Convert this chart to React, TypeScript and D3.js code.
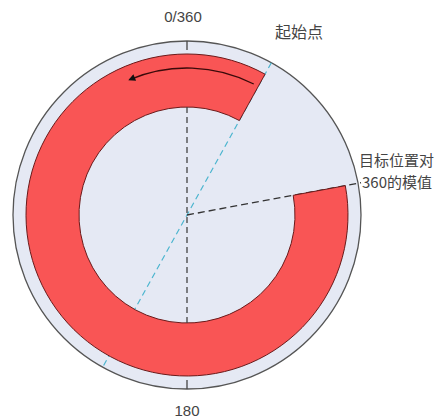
import React from "react";
import * as d3 from "d3";

const startAngleDeg = 29; // 起始点
const targetAngleDeg = 79.5; // 目标位置对360的模值
const arrowFromDeg = 27;
const arrowToDeg = -23;
const axisLabels = ["0/360", "180"];
const startLabel = ["起始点"];
const targetLabel = ["目标位置对", "360的模值"];

const W = 440, H = 419;
const cx = 187, cy = 215;
const rOuter = 174, rRed = 161, rInner = 108, rArrow = 147;

const rad = (d: number) => (d * Math.PI) / 180;
const pt = (deg: number, r: number) => [cx + r * Math.sin(rad(deg)), cy - r * Math.cos(rad(deg))];

export default function App() {
  const redArc = d3.arc()({
    innerRadius: rInner,
    outerRadius: rRed,
    startAngle: rad(targetAngleDeg),
    endAngle: rad(startAngleDeg + 360),
  } as any) as string;

  const a0 = pt(arrowFromDeg, rArrow);
  const a1 = pt(arrowToDeg, rArrow);
  const arrowPath = `M${a0[0]},${a0[1]} A${rArrow},${rArrow} 0 0 0 ${a1[0]},${a1[1]}`;

  const blueA = pt(startAngleDeg, rOuter);
  const blueB = pt(startAngleDeg + 180, rOuter);
  const tgt = pt(targetAngleDeg, rOuter + 3);
  const font = "'Liberation Sans', Arial, sans-serif";
  const cjk = "'Noto Sans CJK SC', sans-serif";

  return (
    <svg width={W} height={H} style={{ position: "absolute", left: 0, top: 0, background: "#fff" }}>
      <defs>
        <marker id="ah" viewBox="0 0 10 10" refX="8" refY="5" markerWidth="10" markerHeight="7" orient="auto" markerUnits="userSpaceOnUse">
          <path d="M0,0 L10,5 L0,10 z" fill="#111" />
        </marker>
      </defs>
      <circle cx={cx} cy={cy} r={rOuter} fill="#e5e9f4" stroke="#555" strokeWidth={1.3} />
      {/* blue dashed start line */}
      <line x1={blueA[0]} y1={blueA[1]} x2={blueB[0]} y2={blueB[1]} stroke="#4bb5cf" strokeWidth={1.2} strokeDasharray="6,4" />
      {/* target dashed line */}
      <line x1={cx} y1={cy} x2={tgt[0]} y2={tgt[1]} stroke="#333" strokeWidth={1.3} strokeDasharray="7,4" />
      <g transform={`translate(${cx},${cy})`}>
        <path d={redArc} fill="#f95555" stroke="#6a1a1a" strokeWidth={1} />
      </g>
      <path d={arrowPath} fill="none" stroke="#3a0a0a" strokeWidth={1.3} markerEnd="url(#ah)" />
      {/* vertical dashed axis */}
      <line x1={cx} y1={cy - rInner} x2={cx} y2={cy + rInner} stroke="#444" strokeWidth={1.3} strokeDasharray="6,4" />
      <line x1={cx} y1={cy - rOuter} x2={cx} y2={cy - rOuter + 9} stroke="#444" strokeWidth={1.3} />
      <line x1={cx} y1={cy + rOuter} x2={cx} y2={cy + rOuter - 9} stroke="#444" strokeWidth={1.3} />
      <text x={183} y={22} textAnchor="middle" fontFamily={font} fontSize={15} fill="#444">{axisLabels[0]}</text>
      <text x={187} y={416} textAnchor="middle" fontFamily={font} fontSize={15} fill="#444">{axisLabels[1]}</text>
      <text x={275} y={38} fontFamily={cjk} fontSize={16} fill="#444">{startLabel[0]}</text>
      <text x={359} y={166} fontFamily={cjk} fontSize={15} fill="#444">{targetLabel[0]}</text>
      <text x={362} y={188} fontFamily={cjk} fontSize={15} fill="#444">{targetLabel[1]}</text>
    </svg>
  );
}
